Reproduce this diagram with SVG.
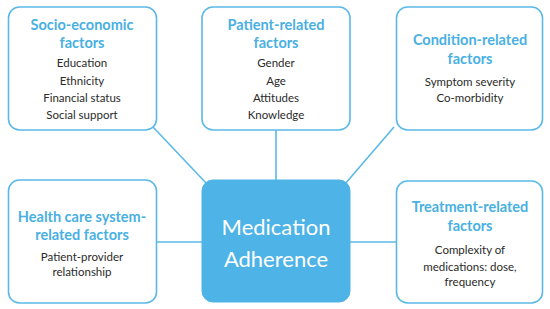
<svg xmlns="http://www.w3.org/2000/svg" width="550" height="309" viewBox="0 0 550 309">
<style>
.box{fill:#fff;stroke:#5bb9e7;stroke-width:1.6}
.ctr{fill:#4eb3e6;stroke:#4eb3e6;stroke-width:1}
.ttl{font-family:Lato,"Open Sans",sans-serif;font-size:14.5px;font-weight:bold;fill:#49b0e2;text-anchor:middle}
.bd{font-family:Lato,"Open Sans",sans-serif;font-size:11.5px;fill:#2a2a2a;text-anchor:middle}
.big{font-family:Lato,"Open Sans",sans-serif;font-size:22px;fill:#fff;text-anchor:middle}
.ln{stroke:#5bb9e7;stroke-width:1.6;fill:none}
</style>
<rect width="550" height="309" fill="#fff"/>
<g id="connectors">
<line class="ln" x1="153" y1="127" x2="207" y2="184"/>
<line class="ln" x1="276" y1="130" x2="276" y2="180"/>
<line class="ln" x1="394" y1="127" x2="345" y2="184"/>
<line class="ln" x1="157" y1="242" x2="202" y2="242"/>
<line class="ln" x1="350" y1="242" x2="396" y2="242"/>
</g>
<g id="socio">
<rect class="box" x="8.5" y="7" width="148" height="123" rx="11"/>
<text class="ttl" x="82" y="30">Socio-economic</text>
<text class="ttl" x="82" y="48">factors</text>
<text class="bd" x="82" y="67">Education</text>
<text class="bd" x="82" y="85">Ethnicity</text>
<text class="bd" x="82" y="102">Financial status</text>
<text class="bd" x="82" y="119">Social support</text>
</g>
<g id="patient">
<rect class="box" x="202" y="7" width="148" height="123" rx="11"/>
<text class="ttl" x="276" y="30">Patient-related</text>
<text class="ttl" x="276" y="48">factors</text>
<text class="bd" x="276" y="67">Gender</text>
<text class="bd" x="276" y="85">Age</text>
<text class="bd" x="276" y="102">Attitudes</text>
<text class="bd" x="276" y="119">Knowledge</text>
</g>
<g id="condition">
<rect class="box" x="396.5" y="7" width="146" height="123" rx="11"/>
<text class="ttl" x="470" y="45">Condition-related</text>
<text class="ttl" x="470" y="64">factors</text>
<text class="bd" x="470" y="86">Symptom severity</text>
<text class="bd" x="470" y="102">Co-morbidity</text>
</g>
<g id="healthcare">
<rect class="box" x="8.5" y="180" width="148" height="123" rx="11"/>
<text class="ttl" x="82" y="222">Health care system-</text>
<text class="ttl" x="82" y="240">related factors</text>
<text class="bd" x="82" y="261">Patient-provider</text>
<text class="bd" x="82" y="276">relationship</text>
</g>
<g id="center">
<rect class="ctr" x="202" y="180" width="148" height="122" rx="11"/>
<text class="big" x="276" y="235">Medication</text>
<text class="big" x="276" y="267">Adherence</text>
</g>
<g id="treatment">
<rect class="box" x="396.5" y="181" width="146" height="122" rx="11"/>
<text class="ttl" x="470" y="212">Treatment-related</text>
<text class="ttl" x="470" y="231">factors</text>
<text class="bd" x="470" y="254">Complexity of</text>
<text class="bd" x="470" y="271">medications: dose,</text>
<text class="bd" x="470" y="286">frequency</text>
</g>
</svg>
